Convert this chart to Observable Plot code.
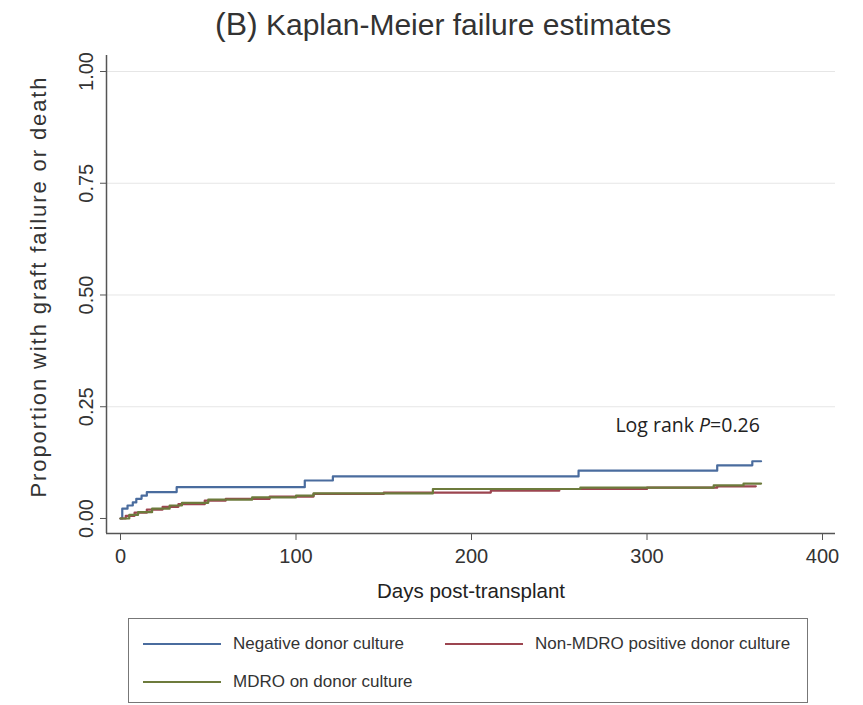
<!DOCTYPE html>
<html><head><meta charset="utf-8">
<script src="https://cdn.jsdelivr.net/npm/d3@7"></script>
<script src="https://cdn.jsdelivr.net/npm/@observablehq/plot@0.6"></script>
<style>
body{margin:0;background:#fff;font-family:"Liberation Sans",Arial,sans-serif;}
#wrap{position:relative;width:863px;height:705px;overflow:hidden;background:#fff;}
#title{position:absolute;left:215px;top:6px;color:#333;font-size:30px;white-space:nowrap;}
#title .b{font-size:32px;}
#chart{position:absolute;left:0;top:50px;}
#legend{position:absolute;left:128px;top:618px;width:680px;height:85px;border:1.5px solid #777;box-sizing:border-box;font-size:17px;color:#333;}
.item{position:absolute;display:flex;align-items:center;white-space:nowrap;}
.sw{display:inline-block;width:78px;height:2px;margin-right:12px;}
</style></head>
<body><div id="wrap">
<div id="title"><span class="b">(B)</span> Kaplan-Meier failure estimates</div>
<div id="chart"></div>
<div id="legend"></div>
</div>
<script>
const seriesNames = ["Negative donor culture", "Non-MDRO positive donor culture", "MDRO on donor culture"];
const seriesColors = ["#4a6c9e", "#9c4550", "#6d7b3c"];

const negDays   = [0, 1, 4, 7, 9, 12, 15, 32, 105, 121, 261, 340, 360, 365];
const negValues = [0, 0.022, 0.029, 0.036, 0.044, 0.051, 0.059, 0.070, 0.085, 0.094, 0.107, 0.119, 0.128, 0.128];

const nonDays   = [0, 3, 8, 15, 24, 33, 48, 60, 85, 110, 150, 211, 250, 300, 340, 362];
const nonValues = [0, 0.006, 0.013, 0.020, 0.026, 0.032, 0.040, 0.044, 0.049, 0.055, 0.058, 0.062, 0.066, 0.069, 0.072, 0.072];

const mdrDays   = [0, 5, 10, 18, 28, 35, 50, 75, 100, 110, 178, 262, 338, 355, 365];
const mdrValues = [0, 0.008, 0.014, 0.022, 0.029, 0.035, 0.042, 0.047, 0.051, 0.056, 0.066, 0.069, 0.074, 0.078, 0.078];

const xTicks = [0, 100, 200, 300, 400];
const yTicks = [0, 0.25, 0.5, 0.75, 1];
const gridTicks = [0.25, 0.5, 0.75, 1];
const xDomain = [-7.98, 407.4];
const yDomain = [-0.0336, 1.0358];
const annotation = [{day: 282, value: 0.208, label: "Log rank P=0.26"}];

const allDays = [negDays, nonDays, mdrDays];
const allValues = [negValues, nonValues, mdrValues];
const rows = [];
allDays.forEach((days, s) => days.forEach((d, i) => rows.push({series: seriesNames[s], day: d, value: allValues[s][i]})));

const plot = Plot.plot({
  width: 863, height: 560,
  marginLeft: 106, marginRight: 28, marginTop: 5, marginBottom: 77,
  style: {fontFamily: '"Liberation Sans", Arial, sans-serif', background: "transparent"},
  x: {domain: xDomain, ticks: xTicks},
  y: {domain: yDomain, ticks: yTicks},
  color: {domain: seriesNames, range: seriesColors},
  marks: [
    Plot.ruleY(gridTicks, {stroke: "#e6e6e6", strokeWidth: 1}),
    Plot.ruleX([xDomain[0]], {stroke: "#555", strokeWidth: 1.5}),
    Plot.ruleY([yDomain[0]], {stroke: "#555", strokeWidth: 1.5}),
    Plot.axisX({ticks: xTicks, tickSize: 7, tickPadding: 8, tickFormat: d => String(d), fontSize: 20, color: "#333", stroke: "#555", label: null}),
    Plot.axisY({ticks: yTicks, tickSize: 6, tickPadding: 8, tickRotate: -90, tickFormat: d => d.toFixed(2), fontSize: 20, color: "#333", stroke: "#555", label: null}),
    Plot.text(["Days post-transplant"], {frameAnchor: "bottom", dy: 64, fontSize: 20.5, fill: "#222", text: d => d}),
    Plot.text(["Proportion with graft failure or death"], {frameAnchor: "left", textAnchor: "middle", rotate: -90, dx: -68, dy: -8, fontSize: 22, fill: "#333", text: d => d, className: "ylab"}),
    Plot.line(rows, {x: "day", y: "value", z: "series", stroke: "series", curve: "step-after", strokeWidth: 2.2}),
    Plot.text(annotation, {x: "day", y: "value", text: "label", textAnchor: "start", fontSize: 19.5, fill: "#222", fontFamily: '"Open Sans", sans-serif', className: "logrank"})
  ]
});
document.getElementById("chart").appendChild(plot);

plot.querySelectorAll(".ylab text").forEach(t => t.style.letterSpacing = "1.9px");

// italic P in annotation
plot.querySelectorAll(".logrank text").forEach(t => {
  const s = t.textContent;
  const i = s.indexOf("P=");
  if (i >= 0) {
    t.textContent = "";
    const ns = "http://www.w3.org/2000/svg";
    const a = document.createElementNS(ns, "tspan"); a.textContent = s.slice(0, i);
    const b = document.createElementNS(ns, "tspan"); b.textContent = "P"; b.setAttribute("font-style", "italic");
    const c = document.createElementNS(ns, "tspan"); c.textContent = s.slice(i + 1);
    t.append(a, b, c);
  }
});

// legend
const legend = document.getElementById("legend");
const pos = [{left: 14, top: 15}, {left: 316, top: 15}, {left: 14, top: 53}];
seriesNames.forEach((name, i) => {
  const it = document.createElement("div");
  it.className = "item";
  it.style.left = pos[i].left + "px";
  it.style.top = pos[i].top + "px";
  const sw = document.createElement("span");
  sw.className = "sw";
  sw.style.background = seriesColors[i];
  const tx = document.createElement("span");
  tx.textContent = name;
  it.append(sw, tx);
  legend.appendChild(it);
});
</script>
</body></html>
